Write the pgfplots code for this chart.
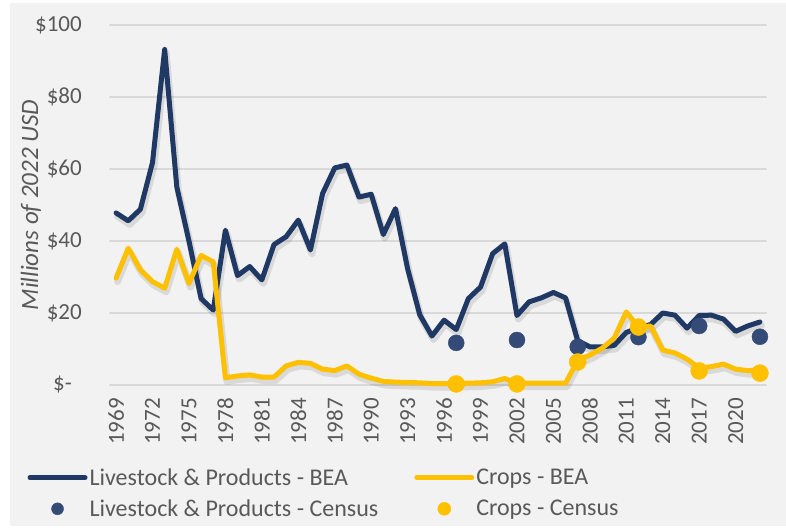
\documentclass[border=0pt]{standalone}
\usepackage{pgfplots}
\pgfplotsset{compat=1.18}
\usepackage{pgfplotstable}
\usepackage{fontspec}
\setmainfont{Carlito}
\definecolor{bg}{HTML}{F2F2F2}
\definecolor{gridc}{HTML}{D9D9D9}
\definecolor{navy}{HTML}{1F3864}
\definecolor{navydot}{HTML}{344A77}
\definecolor{gold}{HTML}{FFC000}
\definecolor{txt}{HTML}{595959}

\pgfplotstableread{
year val
1969 47.8
1970 45.6
1971 48.8
1972 61.8
1973 93.2
1974 55.0
1975 40.0
1976 24.0
1977 20.8
1978 43.0
1979 30.4
1980 32.9
1981 29.2
1982 39.0
1983 41.2
1984 45.8
1985 37.5
1986 53.2
1987 60.3
1988 61.1
1989 52.2
1990 53.0
1991 41.8
1992 49.0
1993 32.3
1994 19.5
1995 13.6
1996 18.0
1997 15.4
1998 24.0
1999 27.2
2000 36.5
2001 39.2
2002 19.3
2003 23.1
2004 24.2
2005 25.7
2006 24.2
2007 12.3
2008 10.6
2009 10.6
2010 11.0
2011 14.6
2012 15.9
2013 16.8
2014 20.0
2015 19.4
2016 15.8
2017 19.3
2018 19.4
2019 18.3
2020 14.9
2021 16.4
2022 17.5
}\livebea

\pgfplotstableread{
year val
1969 29.7
1970 38.0
1971 32.0
1972 28.7
1973 26.9
1974 37.7
1975 28.2
1976 36.0
1977 34.2
1978 2.0
1979 2.5
1980 2.8
1981 2.2
1982 2.2
1983 5.3
1984 6.3
1985 6.0
1986 4.4
1987 4.0
1988 5.3
1989 3.0
1990 1.9
1991 1.0
1992 0.8
1993 0.7
1994 0.6
1995 0.4
1996 0.4
1997 0.4
1998 0.5
1999 0.6
2000 0.9
2001 1.8
2002 0.5
2003 0.5
2004 0.5
2005 0.5
2006 0.5
2007 6.9
2008 8.3
2009 10.2
2010 13.0
2011 20.3
2012 16.0
2013 16.4
2014 9.7
2015 8.9
2016 7.2
2017 4.7
2018 5.1
2019 5.8
2020 4.4
2021 4.0
2022 4.2
}\cropsbea

\pgfplotstableread{
year val
1997 11.7
2002 12.5
2007 10.6
2012 13.3
2017 16.4
2022 13.4
}\livecensus

\pgfplotstableread{
year val
1997 0.3
2002 0.3
2007 6.4
2012 16.1
2017 3.9
2022 3.3
}\cropscensus

\begin{document}
\begin{tikzpicture}
\useasboundingbox (0pt,0pt) rectangle (786pt,527pt);
\fill[bg] (10pt,1pt) rectangle (786pt,524pt);
\begin{axis}[
  at={(110pt,142pt)}, anchor=south west,
  width=656pt, height=360pt, scale only axis,
  xmin=1968.5, xmax=2022.5, ymin=0, ymax=100,
  clip=false,
  axis line style={draw=none},
  major tick length=0pt,
  ymajorgrids, grid style={gridc, line width=1.6pt},
  ytick={0,20,40,60,80,100},
  yticklabels={\$-\hspace*{10pt},\$20,\$40,\$60,\$80,\$100},
  xtick={1969,1972,...,2020},
  xticklabel={\pgfmathprintnumber[1000 sep={},assume math mode=true]{\tick}},
  tick label style={font=\fontsize{23}{27}\selectfont, text=txt, inner sep=0pt},
  yticklabel style={anchor=east},
  yticklabel shift=28pt,
  xticklabel style={rotate=90, anchor=east},
  xticklabel shift=13pt,
  ylabel={\itshape Millions of 2022 USD},
  ylabel style={at={(axis description cs:-0.1204,0.5)}, anchor=center, font=\fontsize{25}{29}\selectfont, text=txt},
  legend columns=2,
  legend cell align=left,
  legend style={at={(axis description cs:-0.126,-0.226)}, anchor=north west, draw=none, fill=none,
    font=\fontsize{24}{28}\selectfont, text=txt, inner sep=0pt, row sep=9pt,
    nodes={inner xsep=2pt},
    /tikz/every even column/.append style={column sep=34pt},
    /tikz/every odd column/.append style={column sep=0pt}},
  line join=round, line cap=round,
]
% shadows
\addplot[forget plot, black, opacity=0.10, line width=7pt, xshift=1.5pt, yshift=-3.5pt] table[x=year,y=val] {\livebea};
\addplot[forget plot, black, opacity=0.10, line width=7pt, xshift=1.5pt, yshift=-3.5pt] table[x=year,y=val] {\cropsbea};
% lines
\addplot[navy, line width=5pt,
  legend image code/.code={\draw[navy, line width=5pt, line cap=round] (0pt,0pt) -- (55pt,0pt);}]
  table[x=year,y=val] {\livebea};
\addlegendentry{Livestock \& Products - BEA}
\addplot[gold, line width=5pt,
  legend image code/.code={\draw[gold, line width=5pt, line cap=round] (0pt,0pt) -- (55pt,0pt);}]
  table[x=year,y=val] {\cropsbea};
\addlegendentry{Crops - BEA}
% dots
\addplot[only marks, mark=*, mark size=8pt, mark options={draw=navydot, fill=navydot}, draw=navydot, fill=navydot,
  legend image code/.code={\fill[navydot] (27.5pt,0pt) circle (6pt);}]
  table[x=year,y=val] {\livecensus};
\addlegendentry{Livestock \& Products - Census}
\addplot[only marks, mark=*, mark size=8.5pt, mark options={draw=gold, fill=gold}, draw=gold, fill=gold,
  legend image code/.code={\fill[gold] (27.5pt,0pt) circle (6.5pt);}]
  table[x=year,y=val] {\cropscensus};
\addlegendentry{Crops - Census}
\end{axis}
\end{tikzpicture}
\end{document}
